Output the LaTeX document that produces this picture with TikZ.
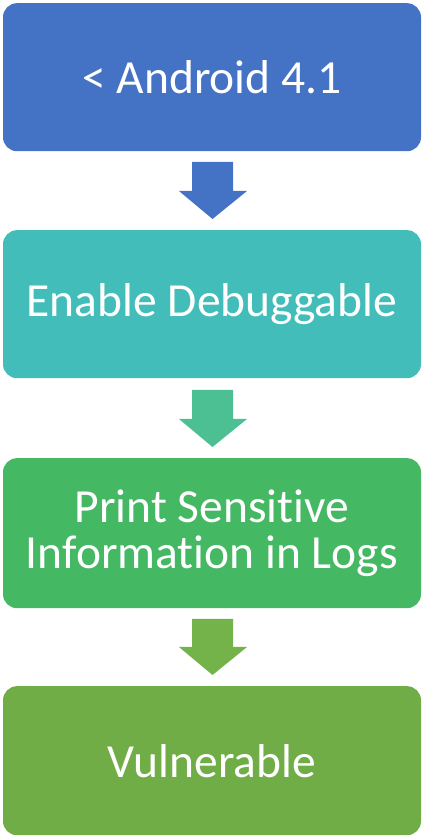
\documentclass[tikz,border=0pt]{standalone}
\usepackage{fontspec}
\setmainfont[RawFeature=-liga]{Carlito}
\definecolor{cA}{HTML}{4472C4}
\definecolor{cB}{HTML}{43BDB9}
\definecolor{cC}{HTML}{45B864}
\definecolor{cD}{HTML}{70AD47}
\definecolor{aB}{HTML}{4CC092}
\definecolor{aC}{HTML}{74B34A}
\tikzset{
  stepbox/.style={rounded corners=14pt, minimum width=418pt, minimum height=148pt, inner sep=0pt,
    text=white, font=\fontsize{47.5}{46}\selectfont, align=center, anchor=north}
}
\begin{document}
\begin{tikzpicture}[x=1pt,y=1pt]
\useasboundingbox (0,0) rectangle (424,836);
\node[stepbox, fill=cA] (b1) at (212,833) {< Android 4.1};
\node[stepbox, fill=cB] (b2) at (212,606) {Enable Debuggable};
\node[stepbox, fill=cC, minimum height=150pt] (b3) at (212,378) {Print Sensitive\\Information in Logs};
\node[stepbox, fill=cD, minimum height=149pt] (b4) at (212,150) {Vulnerable};
% arrows
\fill[cA] (192,674) -- (233,674) -- (233,645) -- (247,645) -- (212.5,617) -- (179,645) -- (192,645) -- cycle;
\fill[aB] (192,446) -- (233,446) -- (233,417) -- (247,417) -- (212.5,389) -- (179,417) -- (192,417) -- cycle;
\fill[aC] (192,217) -- (233,217) -- (233,189) -- (247,189) -- (212.5,161) -- (179,189) -- (192,189) -- cycle;
\end{tikzpicture}
\end{document}
